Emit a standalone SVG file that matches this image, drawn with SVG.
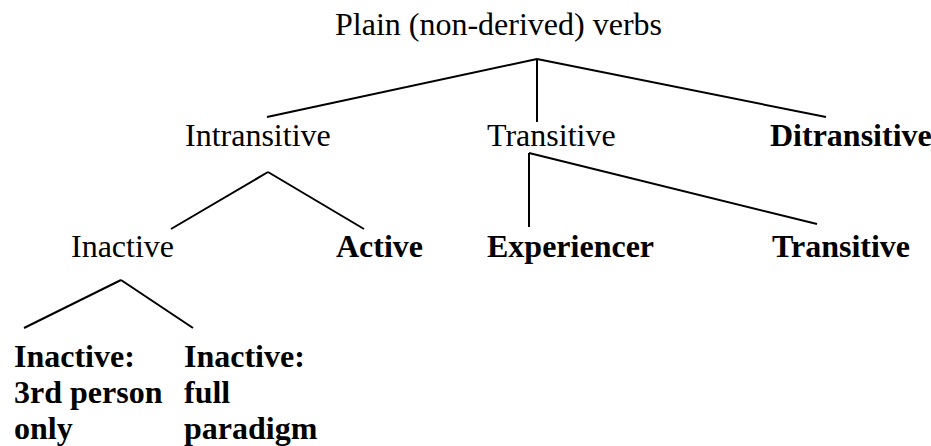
<svg xmlns="http://www.w3.org/2000/svg" width="931" height="446" viewBox="0 0 931 446">
<style>
text{font-size:32px;fill:#000}
.b{font-weight:bold}
.e line{stroke:#000;stroke-width:2;fill:none}
</style>
<rect width="931" height="446" fill="#fff"/>
<g class="e" id="connectors">
<line x1="537" y1="59" x2="267" y2="117"/>
<line x1="537" y1="59" x2="537" y2="122"/>
<line x1="537" y1="59" x2="826" y2="117"/>
<line x1="268" y1="172" x2="171" y2="229"/>
<line x1="268" y1="172" x2="364" y2="229"/>
<line x1="529" y1="153" x2="529" y2="227"/>
<line x1="529" y1="153" x2="817" y2="224"/>
<line x1="121" y1="280" x2="24" y2="328"/>
<line x1="121" y1="280" x2="193" y2="328"/>
</g>
<g font-family="'Liberation Serif', 'Times New Roman', Tinos, 'DejaVu Serif', serif">
<g id="root"><text x="335" y="35">Plain (non-derived) verbs</text></g>
<g id="intransitive"><text x="185" y="146">Intransitive</text></g>
<g id="transitive"><text x="487" y="146">Transitive</text></g>
<g id="ditransitive"><text class="b" x="770" y="146">Ditransitive</text></g>
<g id="inactive"><text x="71" y="257">Inactive</text></g>
<g id="active"><text class="b" x="336" y="257">Active</text></g>
<g id="experiencer"><text class="b" x="487" y="257">Experiencer</text></g>
<g id="transitive2"><text class="b" x="772" y="257">Transitive</text></g>
<g id="inactive3rd"><text class="b"><tspan x="14" y="367">Inactive:</tspan><tspan x="14" y="403">3rd person</tspan><tspan x="14" y="439">only</tspan></text></g>
<g id="inactivefull"><text class="b"><tspan x="184" y="367">Inactive:</tspan><tspan x="184" y="403">full</tspan><tspan x="184" y="439">paradigm</tspan></text></g>
</g>
</svg>
